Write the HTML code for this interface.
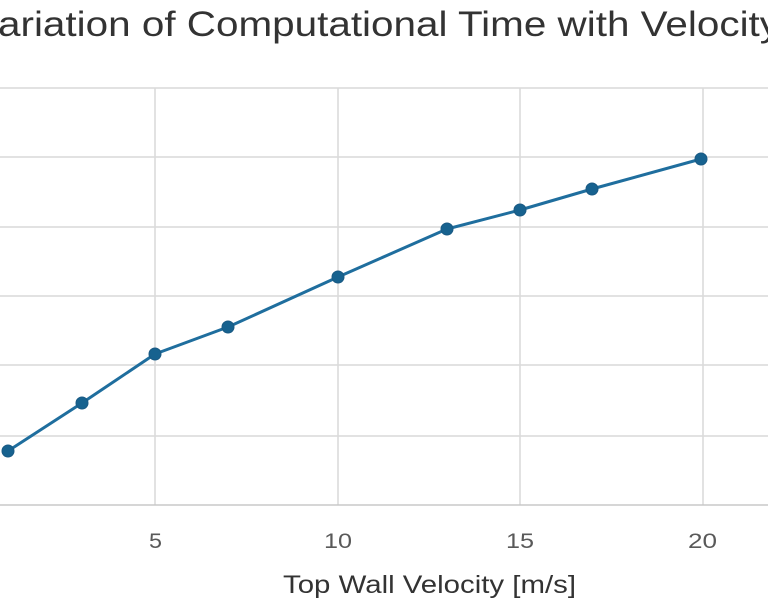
<!DOCTYPE html>
<html><head><meta charset="utf-8"><style>
html,body{margin:0;padding:0;background:#fff;width:768px;height:612px;overflow:hidden}
svg{display:block}
text{font-family:"Liberation Sans",sans-serif}
</style></head><body>
<svg width="768" height="612" viewBox="0 0 768 612" xmlns="http://www.w3.org/2000/svg">
<rect width="768" height="612" fill="#fff"/>
<text x="-2" y="36" font-size="35" fill="#333" textLength="782" lengthAdjust="spacingAndGlyphs">ariation of Computational Time with Velocity</text>
<g stroke="#d9d9d9" stroke-width="1.5">
<line x1="0" y1="88" x2="768" y2="88"/>
<line x1="0" y1="157" x2="768" y2="157"/>
<line x1="0" y1="227" x2="768" y2="227"/>
<line x1="0" y1="296" x2="768" y2="296"/>
<line x1="0" y1="365" x2="768" y2="365"/>
<line x1="0" y1="436" x2="768" y2="436"/>
<line x1="155" y1="88" x2="155" y2="505"/>
<line x1="338" y1="88" x2="338" y2="505"/>
<line x1="520" y1="88" x2="520" y2="505"/>
<line x1="703" y1="88" x2="703" y2="505"/>
</g>
<line x1="0" y1="505" x2="768" y2="505" stroke="#c8c8c8" stroke-width="1.5"/>
<polyline fill="none" stroke="#1f6e9e" stroke-width="3" stroke-linejoin="round" points="8,451 82,403 155,354 228,327 338,277 447,229 520,210 592,189 701,159"/>
<g fill="#17628f" stroke="#1a5a84" stroke-width="1">
<circle cx="8" cy="451" r="6"/><circle cx="82" cy="403" r="6"/><circle cx="155" cy="354" r="6"/>
<circle cx="228" cy="327" r="6"/><circle cx="338" cy="277" r="6"/><circle cx="447" cy="229" r="6"/>
<circle cx="520" cy="210" r="6"/><circle cx="592" cy="189" r="6"/><circle cx="701" cy="159" r="6"/>
</g>
<g font-size="21" fill="#595959">
<text x="149" y="548" textLength="13" lengthAdjust="spacingAndGlyphs">5</text>
<text x="324" y="548" textLength="28" lengthAdjust="spacingAndGlyphs">10</text>
<text x="506" y="548" textLength="28" lengthAdjust="spacingAndGlyphs">15</text>
<text x="688" y="548" textLength="29" lengthAdjust="spacingAndGlyphs">20</text>
</g>
<text x="283" y="593" font-size="25" fill="#333" textLength="293" lengthAdjust="spacingAndGlyphs">Top Wall Velocity [m/s]</text>
</svg>
</body></html>
